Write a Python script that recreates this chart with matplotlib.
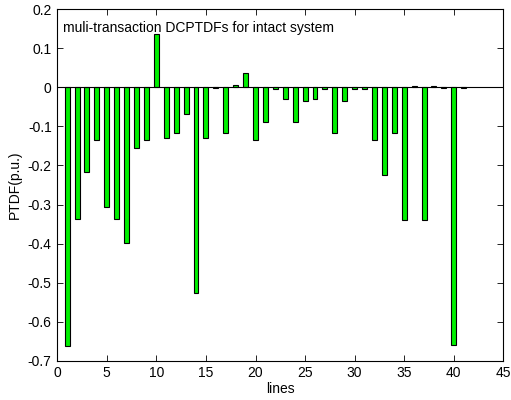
import matplotlib
matplotlib.use("Agg")
import matplotlib.pyplot as plt
import numpy as np

plt.rcParams['font.family'] = ['Liberation Sans', 'DejaVu Sans']

lines = np.arange(1, 42)
ptdf = [-0.662, -0.337, -0.216, -0.135, -0.306, -0.337, -0.398, -0.156, -0.135, 0.137,
        -0.130, -0.116, -0.067, -0.527, -0.130, -0.002, -0.116, 0.005, 0.037, -0.135,
        -0.088, -0.003, -0.030, -0.090, -0.034, -0.030, -0.005, -0.116, -0.034, -0.005,
        -0.004, -0.135, -0.225, -0.116, -0.339, 0.003, -0.339, 0.003, -0.002, -0.660,
        -0.002]
xticks = np.arange(0, 46, 5)
yticks = np.round(np.arange(-0.7, 0.21, 0.1), 1)
title_text = "muli-transaction DCPTDFs for intact system"

fig = plt.figure(figsize=(5.11, 4.00), dpi=100)
ax = fig.add_axes([0.112, 0.098, 0.873, 0.879])

ax.bar(lines, ptdf, width=0.5, color='#00f000', edgecolor='black', linewidth=0.8, zorder=2)
ax.axhline(0, color='black', linewidth=0.8, zorder=3)

ax.set_xlim(0, 45)
ax.set_ylim(-0.7, 0.2)
ax.set_xticks(xticks)
ax.set_yticks(yticks)
ax.set_yticklabels(['0' if v == 0 else f'{v:g}' for v in yticks])
ax.tick_params(direction='in', top=True, right=True, labelsize=10, length=4, width=0.6, pad=4)
for s in ax.spines.values():
    s.set_linewidth(0.8)

ax.set_xlabel('lines', fontsize=10, labelpad=1)
ax.set_ylabel('PTDF(p.u.)', fontsize=10, labelpad=4)
ax.text(0.6, 0.152, title_text, fontsize=10, ha='left', va='center')

fig.savefig('out.png', dpi=100)
